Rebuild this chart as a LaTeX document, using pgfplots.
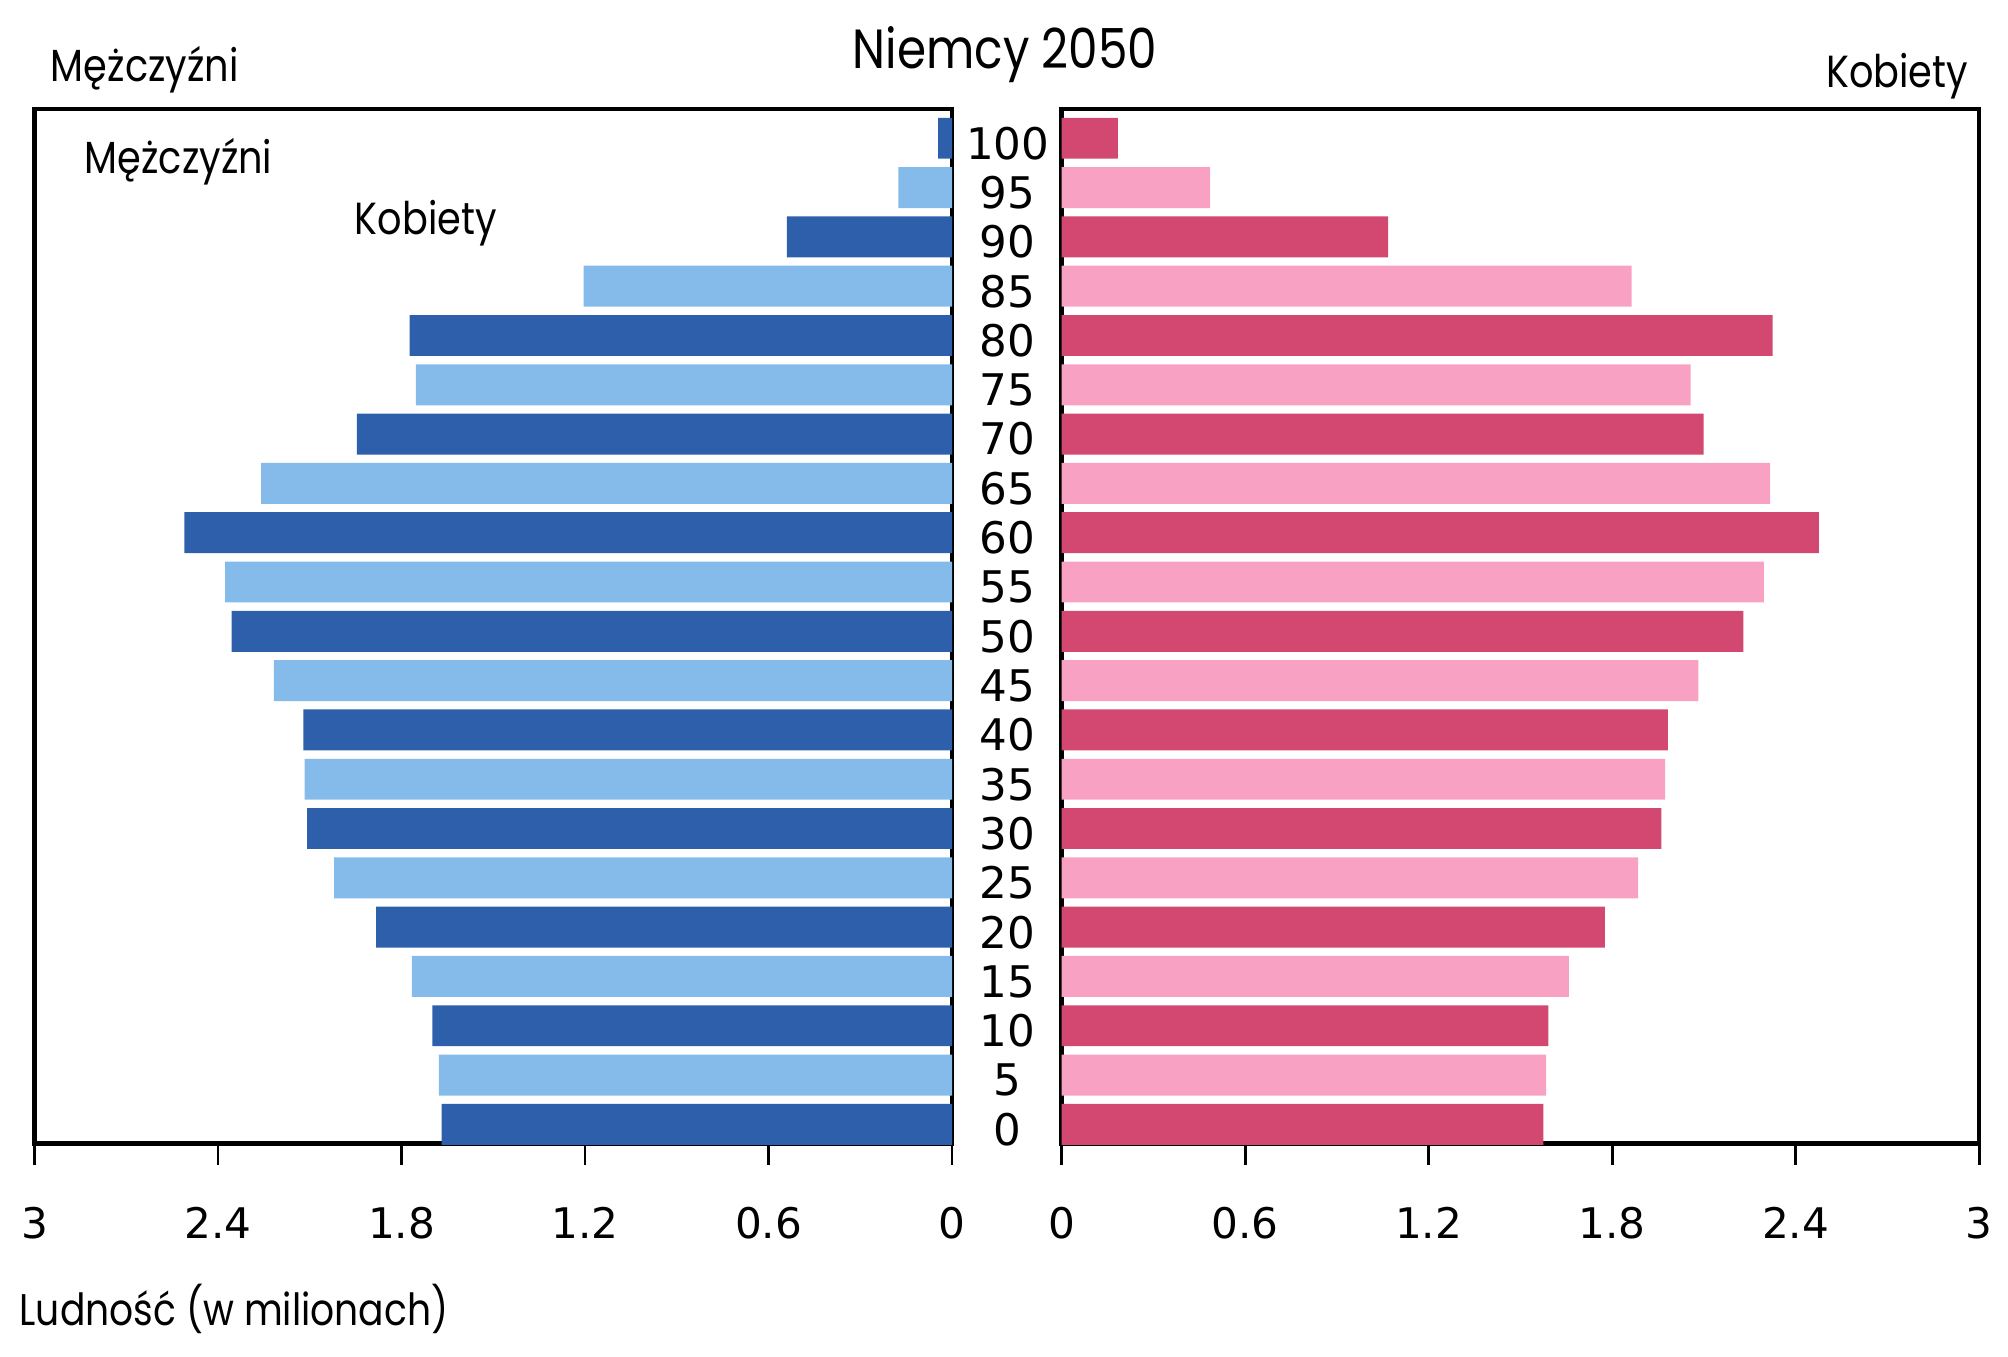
\documentclass[border=0pt]{standalone}
\usepackage{pgfplots}
\pgfplotsset{compat=1.18}
\usepackage{fontspec}
\setmainfont[FakeStretch=0.85]{Poppins}
\newfontfamily\dejavu{DejaVu Sans}
\definecolor{mdark}{RGB}{46,95,170}
\definecolor{mlight}{RGB}{133,187,234}
\definecolor{fdark}{RGB}{211,72,112}
\definecolor{flight}{RGB}{249,161,195}
\begin{document}
\begin{tikzpicture}
\useasboundingbox (0,0) rectangle (20.08cm,13.57cm);
\pgfplotsset{
  pyr/.style={
    scale only axis,
    width=9.175cm, height=10.347cm,
    anchor=south west,
    xmin=0, xmax=3, ymin=-1.95, ymax=102.98,
    xtick={0,0.6,1.2,1.8,2.4,3},
    xtick pos=bottom,
    tick align=outside,
    major tick length=0.21cm,
    every tick/.style={black, line width=0.8pt},
    axis line style={black, line width=1.3pt},
    /pgf/number format/assume math mode=true,
    xticklabel style={font=\dejavu\fontsize{12}{14}\selectfont, yshift=-0.3cm},
    xbar, bar shift=0pt, bar width=4.15,
    clip=false,
  }
}
\begin{axis}[pyr, at={(0.346cm,2.134cm)}, x dir=reverse, ytick=\empty]
\addplot[draw=none, fill=mdark] coordinates {(1.669,0) (1.699,10) (1.883,20) (2.109,30) (2.121,40) (2.356,50) (2.510,60) (1.946,70) (1.774,80) (0.540,90) (0.046,100)};
\addplot[draw=none, fill=mlight] coordinates {(1.678,5) (1.766,15) (2.021,25) (2.117,35) (2.218,45) (2.377,55) (2.259,65) (1.753,75) (1.205,85) (0.176,95)};
\end{axis}
\begin{axis}[pyr, at={(10.616cm,2.134cm)},
  ytick={0,5,...,100},
  ytick style={draw=none},
  yticklabel style={font=\dejavu\fontsize{12.4}{14}\selectfont, anchor=center, xshift=-0.33cm, yshift=-0.05cm}]
\addplot[draw=none, fill=fdark] coordinates {(1.575,0) (1.592,10) (1.776,20) (1.961,30) (1.982,40) (2.229,50) (2.476,60) (2.099,70) (2.325,80) (1.068,90) (0.184,100)};
\addplot[draw=none, fill=flight] coordinates {(1.584,5) (1.659,15) (1.885,25) (1.973,35) (2.082,45) (2.296,55) (2.317,65) (2.057,75) (1.864,85) (0.486,95)};
\end{axis}
\begin{scope}[every node/.style={inner sep=0pt}]
\node[font=\fontsize{15.7}{18}\selectfont] at (10.05cm,13.02cm) {Niemcy 2050};
\node[font=\fontsize{12.8}{15}\selectfont] at (1.447cm,12.87cm) {Mężczyźni};
\node[font=\fontsize{12.8}{15}\selectfont] at (18.97cm,12.806cm) {Kobiety};
\node[font=\fontsize{12.8}{15}\selectfont] at (1.786cm,11.948cm) {Mężczyźni};
\node[font=\fontsize{12.8}{15}\selectfont] at (4.258cm,11.333cm) {Kobiety};
\node[font=\fontsize{12.6}{15}\selectfont, anchor=west] at (0.19cm,0.482cm) {Ludność (w milionach)};
\end{scope}
\end{tikzpicture}
\end{document}
